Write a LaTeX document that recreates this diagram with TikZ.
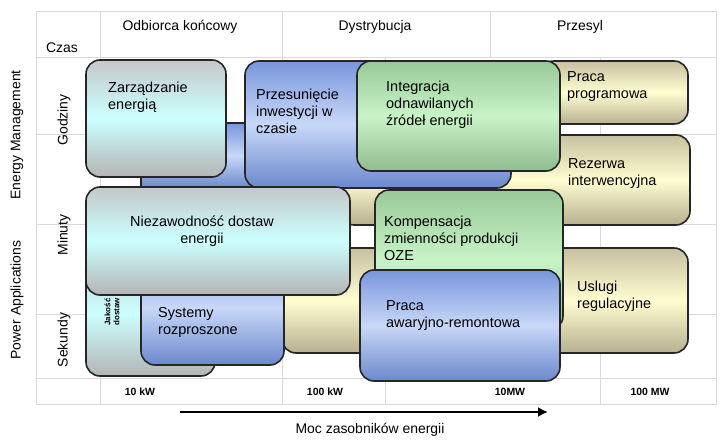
\documentclass[tikz,border=0pt]{standalone}
\usepackage{fontspec}
\setmainfont{Liberation Sans}
\usetikzlibrary{arrows.meta}
\definecolor{cyT}{HTML}{C4C8C8}\definecolor{cyM}{HTML}{CCFFFF}\definecolor{cyB}{HTML}{B4B4B4}
\definecolor{blT}{HTML}{7896DC}\definecolor{blM}{HTML}{C8D8F8}\definecolor{blB}{HTML}{6A88CC}
\definecolor{grT}{HTML}{98C898}\definecolor{grM}{HTML}{C8F4C8}\definecolor{grB}{HTML}{90BC90}
\definecolor{tnT}{HTML}{C8C0A0}\definecolor{tnM}{HTML}{FFFDD0}\definecolor{tnB}{HTML}{B8B090}
\begin{document}
\begin{tikzpicture}[x=1bp,y=-1bp,
  grid/.style={draw=black!15,line width=1bp},
  box/.style={draw=black!85,line width=1.6bp,rounded corners=14bp},
  cyanbox/.style={box,top color=cyT,bottom color=cyB,middle color=cyM},
  bluebox/.style={box,top color=blT,bottom color=blB,middle color=blM},
  greenbox/.style={box,top color=grT,bottom color=grB,middle color=grM},
  tanbox/.style={box,top color=tnT,bottom color=tnB,middle color=tnM},
  lbl/.style={font=\fontsize{14.5}{17}\selectfont,align=left,anchor=north west,inner sep=0},
  ax/.style={font=\fontsize{14}{16}\selectfont,inner sep=0},
  sc/.style={font=\bfseries\fontsize{10.5}{12}\selectfont,inner sep=0},
  tiny/.style={font=\bfseries\fontsize{8}{9}\selectfont,inner sep=0}]
\useasboundingbox (0,0) rectangle (720,440);
% grid
\draw[grid] (36,12) rectangle (716,404);
\draw[grid] (36,58) -- (716,58);
\draw[grid] (100,12) -- (100,404);
\draw[grid] (282,12) -- (282,404);
\draw[grid] (490,12) -- (490,58);
\draw[grid] (385,58) -- (385,404);
\draw[grid] (600,58) -- (600,404);
\draw[grid] (36,135) -- (716,135);
\draw[grid] (36,225) -- (716,225);
\draw[grid] (36,315) -- (716,315);
\draw[grid] (36,378) -- (716,378);
% headers
\node[ax] (h1) at (180,27) {Odbiorca końcowy};
\node[ax] (h2) at (375,27) {Dystrybucja};
\node[ax] (h3) at (580,27) {Przesyl};
\node[ax] (czas) at (62,48) {Czas};
\node[ax,rotate=90] (godz) at (64,120) {Godziny};
\node[ax,rotate=90] (min) at (64,235) {Minuty};
\node[ax,rotate=90] (sek) at (64,340) {Sekundy};
\node[ax,rotate=90] (em) at (17,135) {Energy Management};
\node[ax,rotate=90] (pa) at (17,300) {Power Applications};
% boxes
\path[bluebox,rounded corners=0] (141,123) rectangle (300,188);
\path[tanbox] (340,135) rectangle (690,225);
\node[lbl] (rez) at (568,158) {Rezerwa\\interwencyjna};
\path[tanbox] (282,248) rectangle (688,353);
\node[lbl] (usl) at (577,281) {Uslugi\\regulacyjne};
\path[tanbox] (540,61) rectangle (688,124);
\node[lbl] (prog) at (567,71) {Praca\\programowa};
\path[cyanbox] (86,60) rectangle (226,177);
\node[lbl] (zar) at (108,82) {Zarządzanie\\energią};
\path[bluebox] (245,61) rectangle (511,188);
\node[lbl] (prz) at (256,89) {Przesunięcie\\inwestycji w\\czasie};
\path[greenbox] (357,61) rectangle (560,171);
\node[lbl] (int) at (386,81) {Integracja\\odnawilanych\\źródeł energii};
\path[cyanbox] (86,250) rectangle (215,376);
\node[tiny,rotate=90,align=center] (jak) at (112,312) {Jakość\\dostaw};
\path[bluebox] (141,250) rectangle (284,365);
\node[lbl] (sys) at (158,307) {Systemy\\rozproszone};
\path[cyanbox] (86,187) rectangle (350,295);
\node[lbl,align=center,anchor=north] (nie) at (202,216) {Niezawodność dostaw\\energii};
\path[greenbox] (375,190) rectangle (563,330);
\node[lbl] (kom) at (384,216) {Kompensacja\\zmienności produkcji\\OZE};
\path[bluebox] (360,270) rectangle (560,381);
\node[lbl] (awa) at (386,300) {Praca\\awaryjno-remontowa};
% scale
\node[sc] (k1) at (140,392) {10 kW};
\node[sc] (k2) at (325,392) {100 kW};
\node[sc] (k3) at (510,392) {10MW};
\node[sc] (k4) at (650,392) {100 MW};
\coordinate (a1) at (180,412);
\coordinate (a2) at (548,412);
\draw[line width=2.5bp,-{Latex[length=10bp,width=10bp]}] (a1) -- (a2);
\node[ax] (moc) at (370,430) {Moc zasobników energii};
\end{tikzpicture}
\end{document}
